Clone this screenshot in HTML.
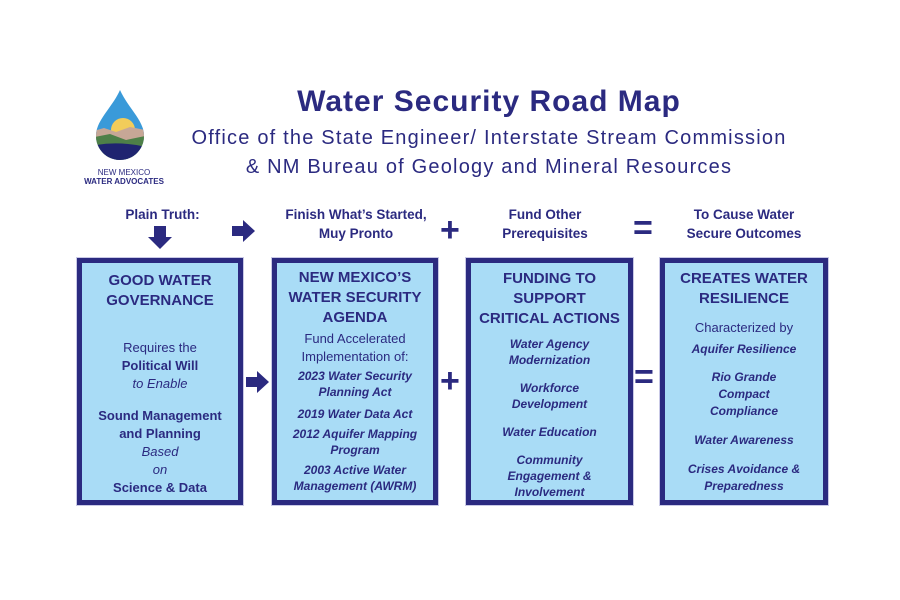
<!DOCTYPE html>
<html><head><meta charset="utf-8"><style>
body{margin:0;width:900px;height:600px;background:#fff;font-family:"Liberation Sans",sans-serif;color:#2b2a80;position:relative;overflow:hidden}
.a{position:absolute;text-align:center}
.box{position:absolute;top:258px;height:247px;background:#a9dcf6;border:5px solid #2b2a80;box-sizing:border-box;text-align:center;box-shadow:0 0 0 1px #c9c9e6}
.h{font-weight:bold;font-size:15px;line-height:20px}
.n{font-size:13px;line-height:18px}
.b{font-weight:bold;font-size:13px;line-height:18px}
.i{font-style:italic;font-weight:bold;font-size:12px;line-height:16px}
.lab{font-weight:bold;font-size:13.5px;line-height:19px;position:absolute;text-align:center}
.op{position:absolute;font-weight:bold;font-size:34px;line-height:30px}
</style></head><body>
<svg class="a" style="left:90px;top:88px" width="60" height="78" viewBox="0 0 60 78">
<defs><clipPath id="c"><circle cx="30" cy="48" r="24"/></clipPath></defs>
<path d="M30 2 C22 20 6 32 6 48 A24 24 0 0 0 54 48 C54 32 38 20 30 2Z" fill="#3a9ad9"/>
<g clip-path="url(#c)"><rect x="0" y="24" width="60" height="54" fill="#3a9ad9"/>
<circle cx="33" cy="42" r="12" fill="#f2cc5a"/>
<path d="M0 44 L14 40 L26 44 L40 39 L60 43 L60 78 L0 78Z" fill="#c7a796"/>
<path d="M0 50 L20 46 L36 52 L60 47 L60 78 L0 78Z" fill="#4e8048"/>
<path d="M0 58 Q30 52 60 60 L60 78 L0 78Z" fill="#1f2470"/></g>
</svg>
<div class="a" style="left:78px;top:168px;width:92px;font-size:8px;line-height:9px">NEW MEXICO<br><b>WATER ADVOCATES</b></div>
<div class="a" style="left:180px;top:85px;width:618px;font-size:30px;font-weight:bold;letter-spacing:1px">Water Security Road Map</div>
<div class="a" style="left:150px;top:124px;width:678px;font-size:20px;line-height:29px;letter-spacing:1.2px">Office of the State Engineer/ Interstate Stream Commission<br>&amp; NM Bureau of Geology and Mineral Resources</div>
<div class="lab" style="left:100px;top:205px;width:125px">Plain Truth:</div>
<svg class="a" style="left:148px;top:226px" width="24" height="24"><path d="M6 0h12v11h6L12 23 0 11h6z" fill="#2b2a80"/></svg>
<svg class="a" style="left:232px;top:220px" width="24" height="22"><path d="M0 6h11V0l12 11-12 11v-6H0z" fill="#2b2a80"/></svg>
<div class="lab" style="left:262px;top:205px;width:188px">Finish What’s Started,<br>Muy Pronto</div>
<div class="op" style="left:440px;top:215px">+</div>
<div class="lab" style="left:480px;top:205px;width:130px">Fund Other<br>Prerequisites</div>
<div class="op" style="left:633px;top:213px">=</div>
<div class="lab" style="left:660px;top:205px;width:168px">To Cause Water<br>Secure Outcomes</div>

<div class="box" style="left:77px;width:166px">
<div class="h" style="margin-top:8px">GOOD WATER<br>GOVERNANCE</div>
<div class="n" style="margin-top:28px">Requires the</div>
<div class="b">Political Will</div>
<div class="n"><i>to Enable</i></div>
<div class="b" style="margin-top:14px">Sound Management<br>and Planning</div>
<div class="n"><i>Based<br>on</i></div>
<div class="b">Science &amp; Data</div>
</div>
<svg class="a" style="left:246px;top:371px" width="24" height="22"><path d="M0 6h11V0l12 11-12 11v-6H0z" fill="#2b2a80"/></svg>
<div class="box" style="left:272px;width:166px">
<div class="h" style="margin-top:5px">NEW MEXICO’S<br>WATER SECURITY<br>AGENDA</div>
<div class="n" style="margin-top:2px">Fund Accelerated<br>Implementation of:</div>
<div class="i" style="margin-top:2px">2023 Water Security<br>Planning Act</div>
<div class="i" style="margin-top:6px">2019 Water Data Act</div>
<div class="i" style="margin-top:4px">2012 Aquifer Mapping<br>Program</div>
<div class="i" style="margin-top:4px">2003 Active Water<br>Management (AWRM)</div>
</div>
<div class="op" style="left:440px;top:366px">+</div>
<div class="box" style="left:466px;width:167px">
<div class="h" style="margin-top:6px">FUNDING TO<br>SUPPORT<br>CRITICAL ACTIONS</div>
<div class="i" style="margin-top:7px">Water Agency<br>Modernization</div>
<div class="i" style="margin-top:12px">Workforce<br>Development</div>
<div class="i" style="margin-top:12px">Water Education</div>
<div class="i" style="margin-top:12px">Community<br>Engagement &amp;<br>Involvement</div>
</div>
<div class="op" style="left:634px;top:362px">=</div>
<div class="box" style="left:660px;width:168px">
<div class="h" style="margin-top:6px">CREATES WATER<br>RESILIENCE</div>
<div class="n" style="margin-top:10px">Characterized by</div>
<div class="i" style="margin-top:4px">Aquifer Resilience</div>
<div class="i" style="margin-top:12px;line-height:17px">Rio Grande<br>Compact<br>Compliance</div>
<div class="i" style="margin-top:12px">Water Awareness</div>
<div class="i" style="margin-top:13px;line-height:17px">Crises Avoidance &amp;<br>Preparedness</div>
</div>
</body></html>
